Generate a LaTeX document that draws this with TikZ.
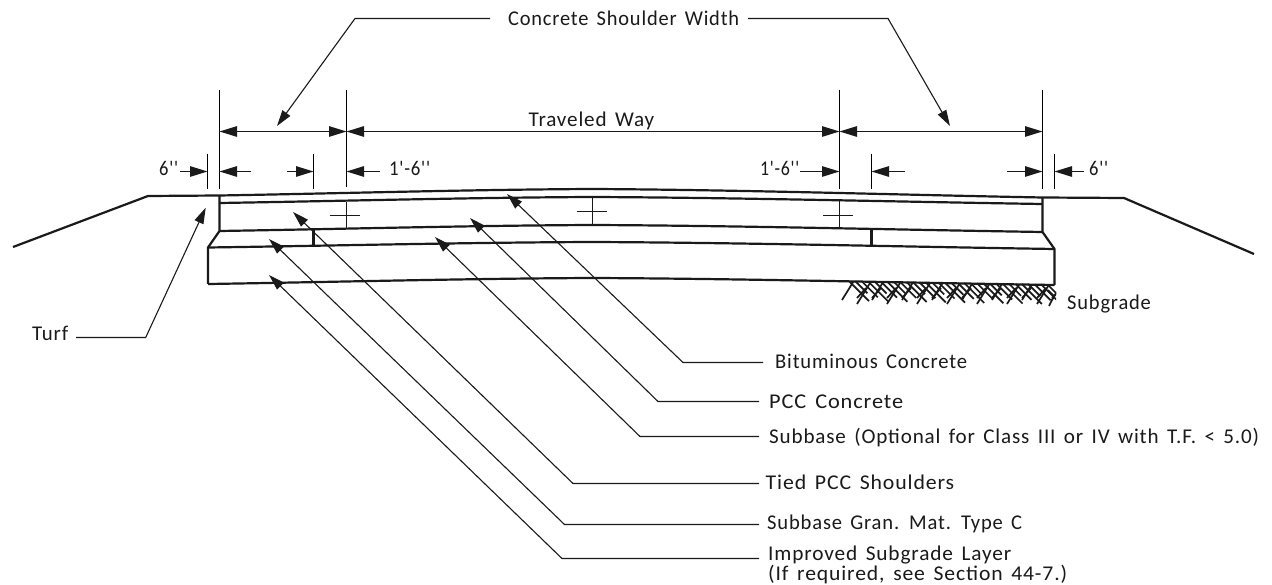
\documentclass[tikz,border=0pt]{standalone}
\usepackage{fontspec}
\usepackage{graphicx}
\usetikzlibrary{arrows.meta}
\newfontfamily\cadfont[LetterSpace=4,WordSpace=1.5]{Carlito}
\definecolor{inkc}{HTML}{1A1A1A}
\newsavebox{\fitbox}
\newcommand{\fitw}[2]{\sbox{\fitbox}{#2}\pgfmathsetmacro{\fitsx}{#1/\wd\fitbox}\scalebox{\fitsx}[1]{\usebox{\fitbox}}}
\newcommand{\crown}[6]{(#1,#2) .. controls ({#1+(#3-#1)/3},{#2+(#4-#2)/3}) and ({#3-(#3-#1)/3},{#4-0.1*(#4-#2)}) .. (#3,#4) .. controls ({#3+(#5-#3)/3},{#4-0.1*(#4-#6)}) and ({#5-(#5-#3)/3},{#6+(#4-#6)/3}) .. (#5,#6)}
\tikzset{
  x=1pt,y=-1pt,
  heavy/.style={line width=2.2pt,inkc,line join=round},
  thin line/.style={line width=1.1pt,inkc},
  extline/.style={line width=1.1pt,black},
  dimline/.style={line width=1.1pt,inkc,-{Triangle[length=17.5pt,width=10.5pt]}},
  dimbar/.style={line width=1.1pt,inkc,{Triangle[length=17.5pt,width=10.5pt]}-{Triangle[length=17.5pt,width=10.5pt]}},
  leader/.style={line width=1.1pt,inkc,-{Triangle[length=16pt,width=9.5pt]}},
  lab/.style={font=\cadfont\fontsize{21}{24}\selectfont,inner sep=0pt,text height=13pt,text depth=0pt,anchor=west,text=inkc},
  hatchs/.style={line width=1.7pt,inkc},
}
\begin{document}
\begin{tikzpicture}
\useasboundingbox (0,0) rectangle (1272,585);
\fill[white] (0,0) rectangle (1272,585);

% pavement layers
\draw[heavy] (13,247) -- (148,196) -- \crown{219.5}{195.5}{592}{189}{1042.5}{197.5} -- (1124,198) -- (1254,254);
\draw[heavy] \crown{219.5}{203}{592}{197}{1042.5}{204};
\draw[heavy] (219.5,195.5) -- (219.5,231) -- (208,247.5) -- (208,284);
\draw[heavy] \crown{219.5}{231}{592}{225}{1042.5}{232};
\draw[heavy] \crown{208}{247.5}{592}{242}{1054.5}{249};
\draw[heavy] \crown{208}{284}{592}{278}{1054.5}{285};
\draw[heavy] (1042.5,197.5) -- (1042.5,232) -- (1054.5,249) -- (1054.5,285);
\draw[heavy] (313.5,230) -- (313.5,246);
\draw[heavy] (871.5,230) -- (871.5,246);

% joints
\foreach \jx/\ja/\jb/\jc/\jl/\jr in {346.5/202/228/215.5/330/360, 592.5/196/224/211.5/576.7/606.7, 839.5/201/228/215.5/823/853}{
  \draw[thin line] (\jx,\ja) -- (\jx,\jb);
  \draw[thin line] (\jl,\jc) -- (\jr,\jc);
}

% extension lines
\coordinate (e1) at (219.5,131.5);
\coordinate (e2) at (346.5,131.5);
\coordinate (e3) at (839.5,131.5);
\coordinate (e4) at (1042.5,131.5);
\draw[extline] (219.5,90) -- (219.5,189);
\draw[extline] (346.5,90) -- (346.5,187);
\draw[extline] (839.5,90) -- (839.5,189);
\draw[extline] (1042.5,90) -- (1042.5,189);
\foreach \ex in {207.5,313.5,871.5,1054.5}{
  \draw[extline] (\ex,154) -- (\ex,189);
}

% dimension row 1
\draw[dimbar] (e1) -- (e2);
\draw[dimbar] (e2) -- (e3);
\draw[dimbar] (e3) -- (e4);
\node[lab] (tw) at (528.5,120) {\fitw{125.5}{Traveled Way}};

% dimension row 2
\node[lab] (s6a) at (159,169) {\fitw{19}{6''}};
\node[lab] (f6a) at (389,169) {\fitw{41}{1'-6''}};
\node[lab] (f6b) at (760,169) {\fitw{39}{1'-6''}};
\node[lab] (s6b) at (1089,169) {\fitw{19}{6''}};
\coordinate (a1) at (207.5,171.5);
\coordinate (a2) at (219.5,171.5);
\coordinate (a2e) at (251,171.5);
\coordinate (a3) at (313.5,171.5);
\coordinate (a3e) at (287,171.5);
\coordinate (a4) at (346.5,171.5);
\coordinate (a5) at (839.5,171.5);
\coordinate (a6) at (871.5,171.5);
\coordinate (a6e) at (905,171.5);
\coordinate (a7) at (1042.5,171.5);
\coordinate (a7e) at (1007,171.5);
\coordinate (a8) at (1054.5,171.5);
\draw[dimline] (180,171.5) -- (a1);
\draw[dimline] (a2e) -- (a2);
\draw[dimline] (a3e) -- (a3);
\draw[dimline] (380,171.5) -- (a4);
\draw[dimline] (800,171.5) -- (a5);
\draw[dimline] (a6e) -- (a6);
\draw[dimline] (a7e) -- (a7);
\draw[dimline] (1084,171.5) -- (a8);

% top label
\node[lab] (csw) at (508,19) {\fitw{231}{Concrete Shoulder Width}};
\coordinate (cl) at (355,18.5);
\coordinate (cr) at (888,18.5);
\coordinate (tl) at (277,126);
\coordinate (tr) at (950,126);
\draw[leader] (490,18.5) -- (cl) -- (tl);
\draw[leader] (748,18.5) -- (cr) -- (tr);

% turf
\node[lab] (turf) at (32,334) {\fitw{36}{Turf}};
\coordinate (tfe) at (145.7,337.5);
\coordinate (tft) at (205.7,207.7);
\draw[leader] (76,337.5) -- (tfe) -- (tft);

% callouts
\node[lab] (bit) at (775,361.7) {\fitw{192}{Bituminous Concrete}};
\node[lab] (pcc) at (769,402) {\fitw{134}{PCC Concrete}};
\node[lab] (sub) at (769,437) {\fitw{490}{Subbase (Optional for Class III or IV  with T.F. < 5.0)}};
\node[lab] (tied) at (765.5,483) {\fitw{188.5}{Tied PCC Shoulders}};
\node[lab] (gran) at (767,523) {\fitw{255}{Subbase Gran. Mat. Type C}};
\node[lab] (imp) at (768,554) {\fitw{243}{Improved Subgrade Layer}};
\node[lab] (imp2) at (768,574) {\fitw{299}{(If required, see Section 44-7.)}};
\node[lab] (sg) at (1067,302.7) {\fitw{83.7}{Subgrade}};

\coordinate (t1) at (507,194);   \coordinate (k1) at (683,362.5);
\coordinate (t2) at (470,218);   \coordinate (k2) at (658,401.5);
\coordinate (t3) at (435,237);   \coordinate (k3) at (640,436.5);
\coordinate (t4) at (293,212);   \coordinate (k4) at (573,483.5);
\coordinate (t5) at (269,239);   \coordinate (k5) at (564.5,524.5);
\coordinate (t6) at (269,275);   \coordinate (k6) at (562,558.5);
\draw[leader] (763,362.5) -- (k1) -- (t1);
\draw[leader] (759,401.5) -- (k2) -- (t2);
\draw[leader] (759,436.5) -- (k3) -- (t3);
\draw[leader] (759,483.5) -- (k4) -- (t4);
\draw[leader] (759,524.5) -- (k5) -- (t5);
\draw[leader] (759,558.5) -- (k6) -- (t6);

% subgrade hatching
\begin{scope}
\clip (838,280) rectangle (1056,308);
\foreach \n in {0,...,31}{
  \pgfmathsetmacro{\hx}{849+6.4*\n}
  \pgfmathsetmacro{\hy}{281+(\hx-842)*3.5/213}
  \pgfmathsetmacro{\hl}{int(mod(\n,3))==0 ? 20 : (int(mod(\n,3))==1 ? 12 : 16)}
  \draw[hatchs] (\hx,\hy) -- ++(\hl,\hl);
}
\foreach \n in {0,...,14}{
  \pgfmathsetmacro{\hx}{842+15*\n}
  \pgfmathsetmacro{\hy}{282+(\hx-842)*3.5/213}
  \pgfmathsetmacro{\hb}{int(mod(\n,2))==0 ? 300 : 304}
  \draw[hatchs] (\hx,\hb) -- ({\hx+(\hb-\hy)*0.62},\hy);
}
\foreach \n in {0,...,13}{
  \pgfmathsetmacro{\hx}{857+15*\n}
  \draw[hatchs] (\hx,298) -- (\hx+9,288);
}
\end{scope}
\draw[hatchs] (1048,290) -- (1054,296) -- (1049,306);
\end{tikzpicture}
\end{document}
